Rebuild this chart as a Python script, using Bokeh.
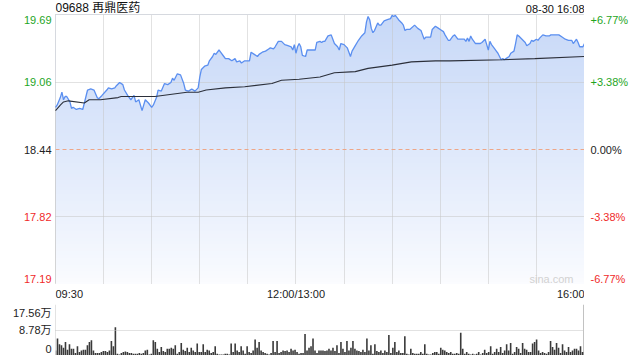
import numpy as np
from bokeh.plotting import figure
from bokeh.models import Range1d, Label, Span, Grid, FixedTicker, Spacer
from bokeh.layouts import column, row
from bokeh.embed import file_html
from bokeh.resources import INLINE
from bokeh.core.properties import value

# ---------------- data ----------------
title_text = "09688 再鼎医药"
stamp_text = "08-30 16:08"
watermark = "sina.com"
prev_close = 18.44
max_pct = 6.77
session_minutes = 330

price_minutes = [0, 1, 3, 4, 5, 6, 7, 9, 10, 11, 13, 15, 17, 18, 20, 22, 24, 26, 27, 29,
                 32, 33, 35, 37, 38, 40, 42, 43, 45, 47, 49, 50, 52, 54, 56, 58, 60, 61, 63, 64,
                 66, 68, 70, 72, 73, 74, 76, 78, 80, 81, 83, 85, 87, 89, 90, 91, 93, 95, 96, 98,
                 99, 100, 102, 103, 105, 106, 108, 110, 112, 113, 115, 116, 118, 121, 122, 124, 126, 127, 129, 131,
                 133, 134, 136, 137, 139, 141, 143, 145, 147, 148, 149, 150, 151, 152, 153, 154, 156, 157, 159, 162,
                 163, 165, 166, 167, 168, 170, 172, 173, 174, 176, 177, 178, 180, 182, 184, 185, 187, 189, 191, 193,
                 194, 195, 196, 197, 198, 199, 201, 202, 203, 205, 207, 209, 210, 211, 212, 214, 216, 217, 218, 219,
                 221, 224, 226, 228, 229, 230, 231, 233, 234, 235, 237, 239, 240, 242, 243, 245, 246, 248, 249, 251,
                 253, 255, 256, 257, 258, 259, 260, 262, 263, 265, 266, 268, 269, 270, 271, 272, 274, 275, 276, 278,
                 279, 280, 281, 283, 284, 286, 287, 288, 289, 291, 293, 294, 296, 297, 298, 300, 301, 302, 304, 306,
                 308, 309, 312, 314, 316, 318, 320, 322, 323, 325, 326, 327, 329, 330]
price_values = [18.83, 18.85, 18.92, 18.97, 18.90, 18.93, 18.93, 18.88, 18.82, 18.83, 18.81, 18.82, 18.81, 18.87, 18.99, 19.00, 18.99, 18.92, 18.91, 18.94,
                18.99, 19.01, 19.00, 19.01, 19.03, 19.06, 19.04, 18.99, 18.94, 18.90, 18.94, 18.88, 18.90, 18.80, 18.90, 18.87, 18.83, 18.85, 18.92, 18.99,
                18.98, 19.05, 19.04, 19.06, 19.10, 19.08, 19.14, 19.13, 19.05, 18.99, 18.98, 19.00, 18.98, 19.01, 19.11, 19.18, 19.21, 19.22, 19.26, 19.30,
                19.33, 19.32, 19.36, 19.34, 19.30, 19.28, 19.28, 19.26, 19.28, 19.25, 19.26, 19.24, 19.26, 19.26, 19.34, 19.32, 19.30, 19.32, 19.34, 19.35,
                19.37, 19.38, 19.37, 19.39, 19.44, 19.44, 19.41, 19.40, 19.39, 19.36, 19.41, 19.33, 19.39, 19.42, 19.39, 19.31, 19.30, 19.36, 19.36, 19.36,
                19.43, 19.44, 19.43, 19.44, 19.44, 19.49, 19.50, 19.46, 19.42, 19.39, 19.36, 19.42, 19.41, 19.38, 19.30, 19.35, 19.40, 19.45, 19.49, 19.52,
                19.62, 19.67, 19.64, 19.56, 19.52, 19.54, 19.61, 19.59, 19.59, 19.63, 19.64, 19.65, 19.68, 19.67, 19.68, 19.64, 19.61, 19.59, 19.54, 19.55,
                19.55, 19.59, 19.56, 19.54, 19.50, 19.46, 19.48, 19.48, 19.48, 19.55, 19.58, 19.56, 19.55, 19.53, 19.50, 19.45, 19.45, 19.49, 19.50, 19.46,
                19.46, 19.46, 19.44, 19.47, 19.44, 19.49, 19.46, 19.42, 19.42, 19.42, 19.43, 19.46, 19.41, 19.36, 19.44, 19.41, 19.37, 19.35, 19.33, 19.27,
                19.28, 19.27, 19.28, 19.30, 19.33, 19.35, 19.42, 19.50, 19.49, 19.46, 19.43, 19.40, 19.42, 19.45, 19.44, 19.46, 19.45, 19.47, 19.50, 19.49,
                19.49, 19.50, 19.50, 19.50, 19.48, 19.46, 19.45, 19.45, 19.42, 19.46, 19.43, 19.39, 19.39, 19.42]

avg_minutes = [0, 3, 5, 8, 18, 21, 28, 39, 41, 62, 82, 89, 94, 106, 118, 135, 141, 152, 165, 174,
               187, 195, 210, 222, 237, 246, 279, 299, 330]
avg_values = [18.80, 18.85, 18.88, 18.89, 18.87, 18.90, 18.90, 18.92, 18.93, 18.93, 18.97, 18.97, 18.99, 19.01, 19.02, 19.05, 19.08, 19.09, 19.11, 19.15,
              19.16, 19.19, 19.22, 19.25, 19.26, 19.26, 19.27, 19.28, 19.30]

# volume per minute, in 万 shares
volumes = [1.76, 5.85, 3.86, 3.51, 2.69, 4.68, 1.99, 3.86, 2.34, 2.34, 0.82, 3.16, 1.17, 1.76, 1.99, 1.99, 3.51, 4.68, 5.27, 1.76,
           0.82, 0.82, 0.82, 1.17, 1.52, 1.52, 1.17, 1.76, 5.03, 3.16, 9.71, 0.59, 0.35, 0.82, 1.17, 1.40, 1.17, 0.82, 0.82, 0.59,
           0.59, 0.59, 0.82, 0.59, 0.82, 1.76, 1.99, 0.35, 0.59, 5.27, 4.68, 2.34, 1.17, 2.93, 1.52, 1.17, 2.34, 2.34, 2.69, 2.34,
           3.51, 0.59, 1.17, 4.33, 1.99, 1.52, 2.69, 1.17, 2.69, 1.76, 1.17, 4.10, 1.17, 1.17, 3.86, 1.17, 1.99, 1.76, 0.82, 1.17,
           3.16, 0.59, 0.35, 0.35, 0.35, 0.59, 0.59, 0.35, 4.10, 1.17, 4.10, 1.76, 1.17, 3.16, 1.76, 0.59, 3.16, 1.17, 0.82, 1.76,
           5.50, 2.69, 4.68, 1.76, 1.17, 0.82, 0.59, 0.35, 0.82, 5.03, 1.17, 5.03, 0.82, 1.17, 1.76, 1.52, 1.76, 1.17, 2.34, 1.76,
           1.99,
           1.17, 0.59, 0.82, 0.82, 7.37, 1.76, 2.69, 3.16, 5.85, 1.76, 0.82, 1.76, 1.76, 1.76, 1.52, 1.76, 2.34, 1.76, 2.69, 1.52,
           3.51, 0.82, 4.68, 2.34, 1.17, 5.03, 1.76, 2.69, 5.03, 2.34, 1.76, 1.52, 1.17, 1.99, 1.17, 5.85, 1.76, 3.51, 0.59, 3.86,
           1.52, 1.17, 1.76, 0.82, 1.76, 1.17, 7.02, 0.82, 2.69, 4.68, 1.17, 1.76, 0.82, 0.82, 6.67, 0.59, 0.35, 2.34, 0.82, 0.59,
           0.59, 0.59, 1.17, 0.59, 3.86, 0.59, 0.35, 0.35, 0.82, 1.17, 1.17, 0.59, 2.69, 1.99, 1.76, 1.17, 0.82, 1.17, 0.59, 0.59,
           0.82, 0.59, 7.84, 2.34, 0.59, 1.17, 0.59, 0.35, 0.59, 0.35, 0.59, 1.17, 0.35, 0.82, 1.99, 0.82, 1.17, 3.16, 0.59, 1.17,
           2.34, 1.17, 2.93, 0.82, 1.76, 3.86, 1.76, 4.33, 0.59, 1.17, 2.93, 2.34, 0.82, 4.33, 2.34, 1.99, 1.17, 1.17, 4.10, 4.68,
           5.50, 1.76, 0.82, 1.17, 0.82, 0.59, 1.17, 5.03, 2.93, 1.99, 4.33, 2.69, 0.82, 3.86, 1.76, 1.17, 2.93, 1.17, 1.76, 2.34,
           2.34, 1.76, 3.16, 1.17, 17.56]

price_ticks = [19.69, 19.06, 18.44, 17.82, 17.19]
pct_labels = ["+6.77%", "+3.38%", "0.00%", "-3.38%", "-6.77%"]
vol_ticks = [17.56, 8.78, 0]
vol_labels = ["17.56万", "8.78万", "0"]
time_ticks = [0, 150, 330]
time_labels = ["09:30", "12:00/13:00", "16:00"]
grid_minutes = [30, 60, 90, 120, 150, 180, 210, 240, 270, 300]
inner_price_ticks = [19.06, 17.82]

# ---------------- styles ----------------
FONT = value("Liberation Sans")
CJK_FONT = value("Liberation Sans, Noto Sans CJK SC")
UP, DOWN, FLAT = "#1ea51e", "#f02a2a", "#222222"
GRID = "#c4c4c4"
LEFT_W, MAIN_W, RIGHT_W = 55, 529, 56
TOP_H, MAIN_H, MID_H, VOL_H = 14, 270, 20, 51
price_label_shift = [6, 0, 0, 0, -6]    # screen px, downward positive
vol_label_shift = [8, 0, -7]
y_min = prev_close * (1 - max_pct / 100)
y_max = prev_close * (1 + max_pct / 100)


def tick_color(v):
    if abs(v - prev_close) < 1e-6:
        return FLAT
    return UP if v > prev_close else DOWN


def bare(width, height, **kw):
    f = figure(width=width, height=height, toolbar_location=None, output_backend="svg",
               x_axis_type=None, y_axis_type=None, min_border=0,
               outline_line_color=None, background_fill_color="white",
               border_fill_color="white", **kw)
    f.xgrid.visible = False
    f.ygrid.visible = False
    return f


# ---------------- price chart ----------------
x_rng = Range1d(0, session_minutes)
p_rng = Range1d(y_min, y_max)
p = bare(MAIN_W, MAIN_H, x_range=x_rng, y_range=p_rng)
p.outline_line_color = "#c8c8c8"

n = 80
img = np.empty((n, 1), dtype=np.uint32)
view = img.view(dtype=np.uint8).reshape((n, 1, 4))
t = np.linspace(0, 1, n)
c_bottom = np.array([251, 252, 255])
c_top = np.array([200, 217, 248])
for i in range(n):
    c = c_bottom + (c_top - c_bottom) * t[i] ** 0.9
    view[i, 0, 0:3] = c.astype(np.uint8)
    view[i, 0, 3] = 255
p.image_rgba(image=[img], x=0, y=y_min, dw=session_minutes, dh=y_max - y_min, level="image")
p.varea(x=price_minutes, y1=price_values, y2=y_max, fill_color="white")

p.add_layout(Grid(dimension=0, ticker=FixedTicker(ticks=grid_minutes), grid_line_color=GRID,
                  grid_line_dash="1 1", level="guide"))
p.add_layout(Grid(dimension=1, ticker=FixedTicker(ticks=inner_price_ticks), grid_line_color=GRID,
                  grid_line_dash="1 1", level="guide"))
p.add_layout(Span(location=prev_close, dimension="width", line_color="#eea688",
                  line_dash="4 3", line_width=1, level="guide"))

p.line(price_minutes, price_values, line_color="#5b8ff0", line_width=1.3, level="annotation")
p.line(avg_minutes, avg_values, line_color="#2b2f3a", line_width=1.1, level="annotation")
p.add_layout(Label(x=session_minutes, y=y_min, text=watermark, x_offset=-11, y_offset=6,
                   text_align="right", text_baseline="alphabetic", text_color="#d2d2d2",
                   text_font="Liberation Sans", text_font_size="11px"))

# side label panels sharing the price scale
left = bare(LEFT_W, MAIN_H, x_range=Range1d(0, LEFT_W), y_range=p_rng)
right = bare(RIGHT_W, MAIN_H, x_range=Range1d(0, RIGHT_W), y_range=p_rng)
cols = [tick_color(v) for v in price_ticks]
left.text(x=[51] * len(price_ticks), y=price_ticks, text=["%.2f" % v for v in price_ticks],
          y_offset=price_label_shift, text_color=cols, text_align="right",
          text_baseline="middle", text_font=FONT, text_font_size="11px")
right.text(x=[6] * len(price_ticks), y=price_ticks, text=pct_labels,
           y_offset=price_label_shift, text_color=cols, text_align="left",
           text_baseline="middle", text_font=FONT, text_font_size="11px")

# title row
top = bare(MAIN_W, TOP_H, x_range=x_rng, y_range=Range1d(0, TOP_H))
top.text(x=[0], y=[0], text=[title_text], text_align="left", text_baseline="bottom",
         text_color="#111111", text_font=CJK_FONT, text_font_size="12px")
top.text(x=[session_minutes], y=[0], text=[stamp_text], text_align="right",
         text_baseline="bottom", text_color="#111111", text_font=FONT, text_font_size="11px")

# time-axis row
mid = bare(MAIN_W, MID_H, x_range=x_rng, y_range=Range1d(0, MID_H))
for tk, lab, al in zip(time_ticks, time_labels, ["left", "center", "right"]):
    mid.text(x=[tk], y=[MID_H - 3], text=[lab], text_align=al, text_baseline="top",
             text_color="#222222", text_font=FONT, text_font_size="11px")

# ---------------- volume chart ----------------
vol_minutes = np.linspace(0, session_minutes, len(volumes))
v_rng = Range1d(0, vol_ticks[0])
v = bare(MAIN_W, VOL_H, x_range=x_rng, y_range=v_rng)
v.add_layout(Grid(dimension=1, ticker=FixedTicker(ticks=vol_ticks[:2]), grid_line_color=GRID,
                  grid_line_dash="1 1", level="guide"))
v.add_layout(Span(location=0, dimension="height", line_color="#c8c8c8", line_width=1))
v.vbar(x=vol_minutes, top=volumes, bottom=0, width=1, width_units="screen",
       fill_color="#3a3a3a", line_color=None)

vleft = bare(LEFT_W, VOL_H, x_range=Range1d(0, LEFT_W), y_range=v_rng)
vleft.text(x=[51] * len(vol_ticks), y=vol_ticks, text=vol_labels, y_offset=vol_label_shift,
           text_align="right", text_baseline="middle", text_color="#222222",
           text_font=CJK_FONT, text_font_size="11px")

layout = column(
    row(Spacer(width=LEFT_W, height=TOP_H), top, Spacer(width=RIGHT_W, height=TOP_H)),
    row(left, p, right),
    row(Spacer(width=LEFT_W, height=MID_H), mid, Spacer(width=RIGHT_W, height=MID_H)),
    row(vleft, v, Spacer(width=RIGHT_W, height=VOL_H)),
)
open("out.html", "w").write(file_html(layout, INLINE))
